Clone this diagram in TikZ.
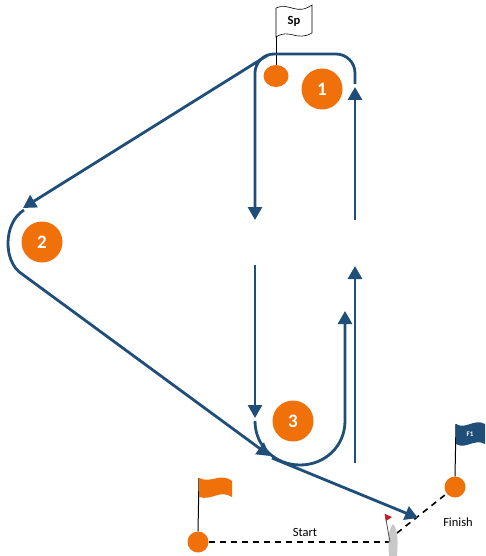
\documentclass[tikz,border=0pt]{standalone}
\usepackage{fontspec}
\setmainfont{Carlito}
\usetikzlibrary{arrows.meta,shapes.geometric}
\definecolor{course}{RGB}{31,78,121}
\definecolor{buoy}{RGB}{240,112,10}
\definecolor{hull}{RGB}{200,200,200}
\definecolor{pennant}{RGB}{205,25,35}

\begin{document}
\begin{tikzpicture}[x=1pt,y=-1pt,
  leg/.style={line width=2.8pt,draw=course,-{Triangle[length=13pt,width=14pt]}},
  markdisc/.style={circle,fill=buoy,minimum size=41pt,inner sep=0pt,text=white,font=\fontsize{19}{19}\selectfont\bfseries},
  buoy/.style={circle,fill=buoy,minimum size=21pt,inner sep=0pt},
  pole/.style={line width=1pt,black},
  linedash/.style={line width=1.6pt,dash pattern=on 6pt off 5pt}]
\fill[white] (0,0) rectangle (485,556);
\useasboundingbox (0,0) rectangle (485,556);

% Marks
\node[markdisc] (m1) at (322,89) {1};
\node[markdisc] (m2) at (42,242) {2};
\node[markdisc] (m3) at (293,421) {3};

% Spreader with flag
\node[buoy,ellipse,minimum width=25pt,minimum height=22pt] (sp) at (276,76) {};
\coordinate (sptop) at (276,8);
\draw[pole] (sp.north) -- (sptop);
\draw[fill=white,line width=0.6pt] (sptop) .. controls (290,2) and (296,16) .. (312,5) -- (312,33) .. controls (296,42) and (290,28) .. (276,37) -- cycle;
\node[font=\bfseries\fontsize{12.5}{13}\selectfont] (sptext) at (294,21) {Sp};

% Course legs
\draw[leg] (355,220) -- (355,87);
\draw[leg,rounded corners=19pt] (355,84) -- (355,54) -- (255,54) -- (255,220);
\draw[leg] (268,55) -- (23,208);
\draw[leg] (24,210) .. controls (3,223) and (3,262) .. (22,274) -- (270,456);
\draw[leg] (255,265) -- (255,418);
\draw[leg] (255,421) .. controls (255,446) and (275,465) .. (300,465) .. controls (325,465) and (345,446) .. (345,421) -- (345,311);
\draw[leg] (355,463) -- (355,266);

% Start line
\node[buoy] (start) at (198,542) {};
\coordinate (stop) at (199,478);
\draw[pole] (start.north) -- (stop);
\fill[buoy] (stop) .. controls (212,484) and (220,472) .. (232,481) -- (232,497) .. controls (220,489) and (212,501) .. (199,497) -- cycle;
\coordinate (boat) at (391,542);
\draw[linedash] (start) -- (boat);
\node[font=\fontsize{12.5}{13}\selectfont] (starttxt) at (305,532) {Start};

% Finish line
\node[buoy] (finish) at (455,487) {};
\coordinate (ftop) at (456,424);
\draw[pole] (finish.north) -- (ftop);
\fill[course] (ftop) .. controls (466,430) and (474,418) .. (485,424) -- (485,444) .. controls (474,438) and (466,450) .. (456,444) -- cycle;
\node[white,font=\bfseries\fontsize{7}{7}\selectfont] (ftext) at (470,434) {F1};
\coordinate (bow) at (397,533);
\draw[linedash] (bow) -- (finish);
\node[font=\fontsize{12.5}{13}\selectfont] (finishtxt) at (458,522) {Finish};

% Committee boat
\fill[hull] (393,524) .. controls (398,530) and (398,540) .. (397,556) -- (389,556) .. controls (388,540) and (388,530) .. (393,524) -- cycle;
\coordinate (bpole) at (385,514);
\draw[line width=0.8pt,black!70] (bpole) -- (390,542);
\fill[pennant] (bpole) -- (392,517) -- (386,521) -- cycle;

% Final leg
\draw[leg] (272,458) -- (418,518);

\end{tikzpicture}
\end{document}
